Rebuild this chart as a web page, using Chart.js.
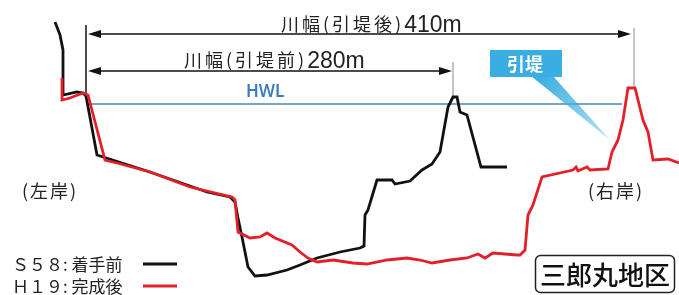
<!DOCTYPE html>
<html>
<head>
<meta charset="utf-8">
<script src="https://cdn.jsdelivr.net/npm/chart.js@4/dist/chart.umd.min.js"></script>
<style>
  html, body { margin: 0; padding: 0; background: #fff; }
  #wrap { width: 679px; height: 295px; position: relative; }
</style>
</head>
<body>
<div id="wrap"><canvas id="myChart"></canvas></div>
<script>
// cross-section, distance / elevation in picture units
const distS58 = [55, 60, 63, 63, 77, 83, 86, 97, 150, 207, 230, 235, 238, 242, 248, 255, 267, 287, 300, 317, 340, 360, 364, 365, 368, 377, 392, 395, 410, 422, 432, 440, 448, 453, 457, 460, 467, 481, 507];
const elevS58 = [273, 260, 245, 200, 203, 202, 199, 140, 123, 103, 98, 93, 77, 58, 28, 19, 20, 25, 30, 37, 43, 47, 49, 80, 85, 115, 115, 111, 114, 125, 131, 143, 188, 198, 198, 183, 180, 128, 128];

const distH19 = [62, 62, 70, 83, 88, 105, 117, 150, 190, 232, 235, 238, 250, 260, 267, 275, 292, 300, 308, 317, 333, 353, 367, 387, 407, 420, 432, 450, 467, 478, 485, 493, 517, 520, 525, 528, 533, 542, 573, 576, 578, 587, 590, 608, 612, 618, 623, 628, 635, 643, 648, 653, 668, 679];
const elevH19 = [217, 195, 197, 202, 200, 135, 132, 123, 108, 98, 95, 63, 57, 58, 62, 57, 50, 43, 37, 33, 35, 32, 31, 35, 37, 35, 32, 35, 37, 41, 37, 42, 40, 40, 45, 80, 90, 118, 125, 128, 124, 128, 125, 126, 143, 155, 175, 207, 207, 175, 163, 135, 136, 132];

const hwlLevel = 191;
const hwlFrom = 88;
const hwlTo = 622;
const leftBank = 86;
const rightBankBefore = 453;
const rightBankAfter = 634;
const widthAfterLabel = ['川幅(引堤後)', '410m'];
const widthBeforeLabel = ['川幅(引堤前)', '280m'];
const seriesNames = ['Ｓ５８: 着手前', 'Ｈ１９: 完成後'];
const seriesColors = ['#111111', '#e3202a'];

function toPoints(xs, ys) {
  return xs.map((x, i) => ({ x: x, y: ys[i] }));
}

const JP = '"Noto Sans CJK JP", "Noto Sans", sans-serif';

function arrow(ctx, x1, x2, y) {
  ctx.save();
  ctx.strokeStyle = '#111';
  ctx.fillStyle = '#111';
  ctx.lineWidth = 1.5;
  ctx.beginPath();
  ctx.moveTo(x1 + 4, y);
  ctx.lineTo(x2 - 4, y);
  ctx.stroke();
  [[x1, 1], [x2, -1]].forEach(([x, d]) => {
    ctx.beginPath();
    ctx.moveTo(x, y);
    ctx.lineTo(x + d * 13, y - 4);
    ctx.lineTo(x + d * 13, y + 4);
    ctx.closePath();
    ctx.fill();
  });
  ctx.restore();
}

function widthLabel(ctx, parts, left, base) {
  ctx.save();
  ctx.fillStyle = '#222';
  ctx.textBaseline = 'alphabetic';
  ctx.textAlign = 'left';
  ctx.font = '18px ' + JP;
  ctx.letterSpacing = '3px';
  const w1 = ctx.measureText(parts[0]).width;
  ctx.fillText(parts[0], left, base);
  ctx.letterSpacing = '0px';
  ctx.font = '23px "Liberation Sans", Arial, sans-serif';
  ctx.fillText(parts[1], left + w1, base + 1);
  ctx.restore();
}

const notes = {
  id: 'notes',
  beforeDatasetsDraw(chart) {
    const { ctx, scales: { x, y } } = chart;
    ctx.save();
    ctx.strokeStyle = '#4a86b8';
    ctx.lineWidth = 1.3;
    ctx.beginPath();
    ctx.moveTo(x.getPixelForValue(hwlFrom), y.getPixelForValue(hwlLevel));
    ctx.lineTo(x.getPixelForValue(hwlTo), y.getPixelForValue(hwlLevel));
    ctx.stroke();
    ctx.fillStyle = '#3a7dbf';
    ctx.font = '600 17px "Noto Sans", sans-serif';
    ctx.textBaseline = 'alphabetic';
    ctx.fillText('HWL', 246, 97);

    // reference verticals at the banks
    ctx.lineWidth = 1.5;
    ctx.strokeStyle = '#111';
    ctx.beginPath();
    ctx.moveTo(x.getPixelForValue(leftBank), 25);
    ctx.lineTo(x.getPixelForValue(leftBank), 94);
    ctx.stroke();
    ctx.lineWidth = 1;
    ctx.strokeStyle = '#888';
    ctx.beginPath();
    ctx.moveTo(x.getPixelForValue(rightBankBefore), 62);
    ctx.lineTo(x.getPixelForValue(rightBankBefore), 96);
    ctx.moveTo(x.getPixelForValue(rightBankAfter), 28);
    ctx.lineTo(x.getPixelForValue(rightBankAfter), 88);
    ctx.stroke();
    ctx.restore();
  },
  afterDatasetsDraw(chart) {
    const { ctx, scales: { x } } = chart;
    const lb = x.getPixelForValue(leftBank) + 2;
    const rb1 = x.getPixelForValue(rightBankBefore) - 1;
    const rb2 = x.getPixelForValue(rightBankAfter) - 3;
    arrow(ctx, lb, rb2, 34);
    arrow(ctx, lb, rb1, 71);
    widthLabel(ctx, widthAfterLabel, 281, 31);
    widthLabel(ctx, widthBeforeLabel, 184, 67);

    // 引堤 callout
    ctx.save();
    const g = ctx.createLinearGradient(540, 77, 610, 140);
    g.addColorStop(0, 'rgba(58,174,226,1)');
    g.addColorStop(1, 'rgba(58,174,226,0.35)');
    ctx.fillStyle = g;
    ctx.beginPath();
    ctx.moveTo(531, 76);
    ctx.lineTo(553, 76);
    ctx.lineTo(610, 140);
    ctx.closePath();
    ctx.fill();
    ctx.fillStyle = '#3aaee2';
    ctx.fillRect(490, 50, 72, 27);
    ctx.fillStyle = '#fff';
    ctx.font = 'bold 18px ' + JP;
    ctx.textAlign = 'center';
    ctx.textBaseline = 'middle';
    ctx.fillText('引堤', 525, 64);

    // bank labels
    ctx.fillStyle = '#222';
    ctx.font = '18px ' + JP;
    ctx.letterSpacing = '2px';
    ctx.fillText('(左岸)', 50, 191);
    ctx.fillText('(右岸)', 616, 191);
    ctx.letterSpacing = '0px';

    // legend
    ctx.textAlign = 'left';
    ctx.textBaseline = 'alphabetic';
    ctx.font = '17px ' + JP;
    seriesNames.forEach((name, i) => {
      const base = 271 + i * 22;
      ctx.fillStyle = '#222';
      ctx.fillText(name, 12, base);
      ctx.strokeStyle = seriesColors[i];
      ctx.lineWidth = 3;
      ctx.beginPath();
      ctx.moveTo(143, base - 7);
      ctx.lineTo(177, base - 7);
      ctx.stroke();
    });

    // district box
    ctx.strokeStyle = '#222';
    ctx.lineWidth = 1.5;
    ctx.beginPath();
    ctx.roundRect(535.5, 255.5, 139, 37, 5);
    ctx.stroke();
    ctx.fillStyle = '#111';
    ctx.font = '500 26px ' + JP;
    ctx.textAlign = 'center';
    ctx.textBaseline = 'middle';
    ctx.fillText('三郎丸地区', 605, 275);
    ctx.restore();
  }
};

new Chart(document.getElementById('myChart'), {
  type: 'scatter',
  data: {
    datasets: [
      {
        label: seriesNames[1],
        data: toPoints(distH19, elevH19),
        showLine: true,
        borderColor: seriesColors[1],
        borderWidth: 2.8,
        pointRadius: 0,
        tension: 0,
        order: 0
      },
      {
        label: seriesNames[0],
        data: toPoints(distS58, elevS58),
        showLine: true,
        borderColor: seriesColors[0],
        borderWidth: 2.8,
        pointRadius: 0,
        tension: 0,
        order: 1
      }
    ]
  },
  options: {
    responsive: true,
    maintainAspectRatio: false,
    animation: false,
    layout: { padding: 0 },
    plugins: { legend: false, tooltip: { enabled: false } },
    scales: {
      x: { type: 'linear', min: 0, max: 679, display: false },
      y: { type: 'linear', min: 0, max: 295, display: false }
    }
  },
  plugins: [notes]
});
</script>
</body>
</html>
